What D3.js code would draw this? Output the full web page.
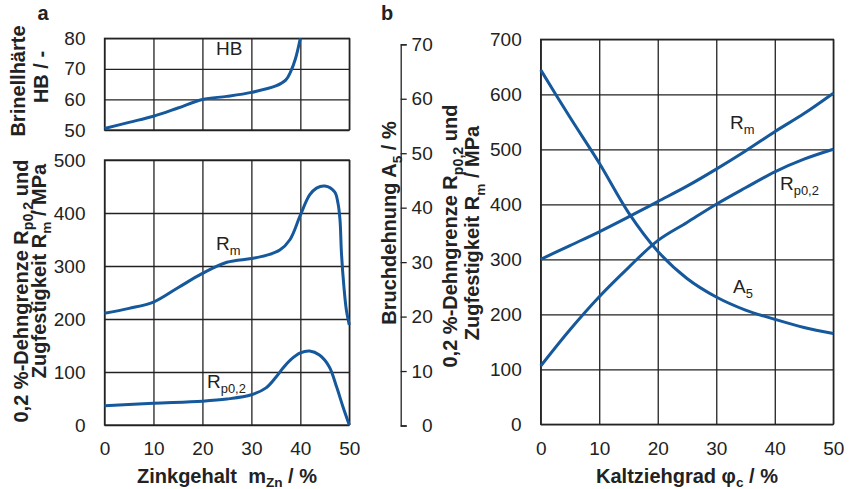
<!DOCTYPE html>
<html>
<head>
<meta charset="utf-8">
<script src="https://cdn.jsdelivr.net/npm/d3@7"></script>
<style>
body { margin: 0; background: #fff; }
text { font-family: "Liberation Sans", Arial, sans-serif; fill: #222; }
.grid line, .grid path { stroke: #222; stroke-width: 1.3; }
.lab { font-weight: bold; font-size: 20px; white-space: pre; }
</style>
</head>
<body>
<script>
// panel a: zinc content
var zincHB = [0, 5, 10, 15, 20, 25, 30, 35, 37, 38, 39, 40];
var hardnessHB = [50.5, 52.5, 54.5, 57.2, 60, 61, 62.3, 64.4, 66.3, 69, 73.3, 80];
var zincRm = [0, 5, 10, 15, 20, 25, 30, 33, 35.8, 37.9, 40, 41.9, 43.3, 45, 47, 47.7, 48.1, 48.4, 48.9, 49.4, 50];
var rmZinc = [210.7, 220, 232, 259, 286, 307, 314, 320, 330, 350, 396, 434, 447, 451, 440, 418, 387, 324, 261, 217, 189];
var zincRp = [0, 10, 20, 25, 30, 33, 35, 36.5, 38, 40, 41.9, 43.9, 45.9, 47.4, 48.7, 50];
var rpZinc = [36.5, 41, 45, 49, 57, 70, 90, 108, 123, 136, 139.6, 132, 110, 72, 34.5, 0];
// panel b: cold drawing degree
var phi = [0, 5, 10, 15, 20, 25, 30, 35, 40, 45, 50];
var rmPhi = [300, 325, 350, 377, 405, 433, 464, 497, 532, 565, 602];
var rpPhi = [106, 172, 232, 285, 334, 367, 400, 430, 459, 482, 500];
var a5Phi = [65.3, 56.6, 48.2, 39.1, 32.0, 27.0, 23.6, 21.2, 19.5, 18.0, 16.9];
// ticks
var xTicks = [0, 10, 20, 30, 40, 50];
var hbTicks = [50, 60, 70, 80];
var mpaTicksA = [0, 100, 200, 300, 400, 500];
var mpaTicksB = [0, 100, 200, 300, 400, 500, 600, 700];
var a5Ticks = [0, 10, 20, 30, 40, 50, 60, 70];

var blue = "#15589b";
var svg = d3.select("body").append("svg").attr("width", 849).attr("height", 489);

var xA = d3.scaleLinear().domain([0, 50]).range([104.5, 349.3]);
var yHB = d3.scaleLinear().domain([50, 80]).range([130, 38.3]);
var yA = d3.scaleLinear().domain([0, 500]).range([425, 160]);
var xB = d3.scaleLinear().domain([0, 50]).range([540.7, 833.3]);
var yB = d3.scaleLinear().domain([0, 700]).range([424.3, 39.3]);
var yA5 = d3.scaleLinear().domain([0, 70]).range([425.5, 44.3]);

function panel(x, y, yt, withX) {
    var x0 = x.range()[0], x1 = x.range()[1], y0 = y.range()[0], y1 = y.range()[1];
    var gy = svg.append("g").attr("class", "grid")
        .attr("transform", "translate(" + x0 + ",0)")
        .call(d3.axisLeft(y).tickValues(yt).tickSize(-(x1 - x0)).tickPadding(19).tickSizeOuter(0));
    gy.select(".domain").remove();
    gy.selectAll("text").attr("font-size", 19).attr("fill", "#222");
    var gx = svg.append("g").attr("class", "grid")
        .attr("transform", "translate(0," + y0 + ")")
        .call(d3.axisBottom(x).tickValues(xTicks).tickSize(-(y0 - y1)).tickPadding(17).tickSizeOuter(0));
    gx.select(".domain").remove();
    gx.selectAll("text").attr("font-size", 19).attr("fill", "#222");
    if (!withX) gx.selectAll("text").remove();
    svg.append("rect").attr("x", x0).attr("y", y1).attr("width", x1 - x0).attr("height", y0 - y1)
        .attr("fill", "none").attr("stroke", "#222").attr("stroke-width", 1.3);
}

panel(xA, yHB, hbTicks, false);
panel(xA, yA, mpaTicksA, true);
panel(xB, yB, mpaTicksB, true);

// A5 axis between the panels
var ga = svg.append("g").attr("transform", "translate(400.7,0)")
    .call(d3.axisRight(yA5).tickValues(a5Ticks).tickSize(6).tickSizeOuter(6));
ga.selectAll("path, line").attr("stroke", "#222").attr("stroke-width", 1.3);
ga.selectAll("text").attr("font-size", 19).attr("fill", "#222")
    .attr("text-anchor", "end").attr("x", 32);

function curve(xs, ys, x, y) {
    var pts = xs.map(function(d, i) { return [d, ys[i]]; });
    svg.append("path").datum(pts)
        .attr("fill", "none").attr("stroke", blue).attr("stroke-width", 3)
        .attr("d", d3.line().x(function(d) { return x(d[0]); }).y(function(d) { return y(d[1]); })
            .curve(d3.curveCatmullRom.alpha(0.5)));
}

curve(zincHB, hardnessHB, xA, yHB);
curve(zincRm, rmZinc, xA, yA);
curve(zincRp, rpZinc, xA, yA);
curve(phi, rmPhi, xB, yB);
curve(phi, rpPhi, xB, yB);
curve(phi, a5Phi, xB, yA5);

// text with a subscript part
function label(g, parts, size, drop) {
    var t = g.append("text");
    var back = 0;
    drop = drop || 0.28;
    parts.forEach(function(p) {
        if (p.sub) {
            t.append("tspan").text(p.sub).attr("font-size", size * 0.68).attr("dy", size * drop);
            back = -size * drop;
        } else {
            t.append("tspan").text(p.t).attr("dy", back);
            back = 0;
        }
    });
    return t;
}

// curve labels
label(svg, [{ t: "HB" }], 19).attr("x", 216).attr("y", 55).attr("font-size", 19);
label(svg, [{ t: "R" }, { sub: "m" }], 19).attr("x", 216).attr("y", 250).attr("font-size", 19);
label(svg, [{ t: "R" }, { sub: "p0,2" }], 19).attr("x", 207).attr("y", 388).attr("font-size", 19);
label(svg, [{ t: "R" }, { sub: "m" }], 19).attr("x", 730).attr("y", 129).attr("font-size", 19);
label(svg, [{ t: "R" }, { sub: "p0,2" }], 19).attr("x", 780).attr("y", 190).attr("font-size", 19);
label(svg, [{ t: "A" }, { sub: "5" }], 19).attr("x", 733).attr("y", 293).attr("font-size", 19);

// panel letters
svg.append("text").attr("class", "lab").attr("x", 43).attr("y", 20).attr("text-anchor", "middle").attr("font-size", 18).text("a");
svg.append("text").attr("class", "lab").attr("x", 387).attr("y", 20).attr("text-anchor", "middle").attr("font-size", 18).text("b");

// axis titles
label(svg, [{ t: "Zinkgehalt  m" }, { sub: "Zn" }, { t: " / %" }], 20, 0.18).attr("class", "lab")
    .attr("x", 227).attr("y", 483).attr("text-anchor", "middle");
label(svg, [{ t: "Kaltziehgrad φ" }, { sub: "c" }, { t: " / %" }], 20, 0.18).attr("class", "lab")
    .attr("x", 687).attr("y", 483).attr("text-anchor", "middle");

function vlabel(parts, x, yc, size) {
    var g = svg.append("g").attr("transform", "translate(" + x + "," + yc + ") rotate(-90)");
    label(g, parts, size).attr("class", "lab").attr("font-size", size).attr("text-anchor", "middle");
}
vlabel([{ t: "Brinellhärte" }], 25, 81, 20);
vlabel([{ t: "HB / -" }], 48, 77, 20);
vlabel([{ t: "0,2 %-Dehngrenze R" }, { sub: "p0,2" }, { t: " und" }], 27.5, 291, 21);
vlabel([{ t: "Zugfestigkeit R" }, { sub: "m" }, { t: " / MPa" }], 45.5, 271, 20);
vlabel([{ t: "Bruchdehnung A" }, { sub: "5" }, { t: " / %" }], 396, 223, 20);
vlabel([{ t: "0,2 %-Dehngrenze R" }, { sub: "p0,2" }, { t: " und" }], 457, 236, 21);
vlabel([{ t: "Zugfestigkeit R" }, { sub: "m" }, { t: " / MPa" }], 479, 233, 20);
</script>
</body>
</html>
